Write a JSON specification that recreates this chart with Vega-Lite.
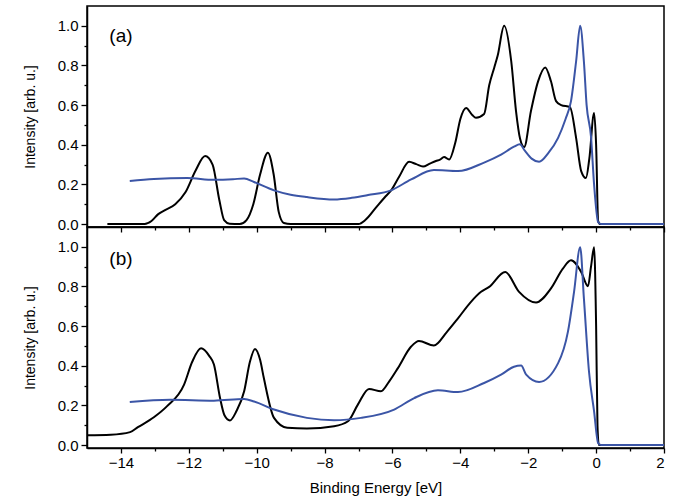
{
  "$schema": "https://vega.github.io/schema/vega-lite/v6.json",
  "padding": {"left": 22, "top": 5, "right": 5, "bottom": 5},
  "background": "white",
  "config": {
    "font": "Liberation Sans",
    "view": {"stroke": "black", "strokeWidth": 1.5},
    "axis": {
      "grid": false,
      "domainColor": "black",
      "domainWidth": 1.5,
      "tickColor": "black",
      "tickWidth": 1.3,
      "labelColor": "black",
      "titleColor": "black",
      "labelFont": "Liberation Sans",
      "titleFont": "Liberation Sans",
      "labelFontSize": 15,
      "titleFontSize": 14,
      "titleFontWeight": "normal"
    }
  },
  "datasets": {
    "curves": [
      {"panel": "a", "series": "black", "x": -14.4, "y": 0},
      {"panel": "a", "series": "black", "x": -13.3, "y": 0},
      {"panel": "a", "series": "black", "x": -13.1, "y": 0.015},
      {"panel": "a", "series": "black", "x": -12.9, "y": 0.05},
      {"panel": "a", "series": "black", "x": -12.7, "y": 0.07},
      {"panel": "a", "series": "black", "x": -12.4, "y": 0.1},
      {"panel": "a", "series": "black", "x": -12.1, "y": 0.16},
      {"panel": "a", "series": "black", "x": -11.8, "y": 0.27},
      {"panel": "a", "series": "black", "x": -11.52, "y": 0.343},
      {"panel": "a", "series": "black", "x": -11.3, "y": 0.3},
      {"panel": "a", "series": "black", "x": -11.1, "y": 0.12},
      {"panel": "a", "series": "black", "x": -10.96, "y": 0.02},
      {"panel": "a", "series": "black", "x": -10.8, "y": 0.002},
      {"panel": "a", "series": "black", "x": -10.5, "y": 0},
      {"panel": "a", "series": "black", "x": -10.3, "y": 0.02},
      {"panel": "a", "series": "black", "x": -10.1, "y": 0.1},
      {"panel": "a", "series": "black", "x": -9.9, "y": 0.25},
      {"panel": "a", "series": "black", "x": -9.67, "y": 0.36},
      {"panel": "a", "series": "black", "x": -9.5, "y": 0.25},
      {"panel": "a", "series": "black", "x": -9.35, "y": 0.06},
      {"panel": "a", "series": "black", "x": -9.2, "y": 0.005},
      {"panel": "a", "series": "black", "x": -9.0, "y": 0},
      {"panel": "a", "series": "black", "x": -7.0, "y": 0},
      {"panel": "a", "series": "black", "x": -6.8, "y": 0.02},
      {"panel": "a", "series": "black", "x": -6.5, "y": 0.08},
      {"panel": "a", "series": "black", "x": -6.2, "y": 0.14},
      {"panel": "a", "series": "black", "x": -6.04, "y": 0.17},
      {"panel": "a", "series": "black", "x": -5.8, "y": 0.24},
      {"panel": "a", "series": "black", "x": -5.51, "y": 0.314},
      {"panel": "a", "series": "black", "x": -5.3, "y": 0.302},
      {"panel": "a", "series": "black", "x": -5.1, "y": 0.29},
      {"panel": "a", "series": "black", "x": -4.9, "y": 0.305},
      {"panel": "a", "series": "black", "x": -4.72, "y": 0.318},
      {"panel": "a", "series": "black", "x": -4.6, "y": 0.325},
      {"panel": "a", "series": "black", "x": -4.48, "y": 0.338},
      {"panel": "a", "series": "black", "x": -4.33, "y": 0.325},
      {"panel": "a", "series": "black", "x": -4.15, "y": 0.41},
      {"panel": "a", "series": "black", "x": -4.0, "y": 0.53},
      {"panel": "a", "series": "black", "x": -3.83, "y": 0.586},
      {"panel": "a", "series": "black", "x": -3.65, "y": 0.55},
      {"panel": "a", "series": "black", "x": -3.54, "y": 0.536},
      {"panel": "a", "series": "black", "x": -3.3, "y": 0.555},
      {"panel": "a", "series": "black", "x": -3.15, "y": 0.7},
      {"panel": "a", "series": "black", "x": -3.0, "y": 0.79},
      {"panel": "a", "series": "black", "x": -2.9, "y": 0.85},
      {"panel": "a", "series": "black", "x": -2.71, "y": 1.0},
      {"panel": "a", "series": "black", "x": -2.5, "y": 0.82},
      {"panel": "a", "series": "black", "x": -2.36, "y": 0.57},
      {"panel": "a", "series": "black", "x": -2.24, "y": 0.43},
      {"panel": "a", "series": "black", "x": -2.12, "y": 0.388},
      {"panel": "a", "series": "black", "x": -1.92, "y": 0.57},
      {"panel": "a", "series": "black", "x": -1.71, "y": 0.72},
      {"panel": "a", "series": "black", "x": -1.5, "y": 0.79},
      {"panel": "a", "series": "black", "x": -1.33, "y": 0.72},
      {"panel": "a", "series": "black", "x": -1.18, "y": 0.62},
      {"panel": "a", "series": "black", "x": -1.03, "y": 0.6},
      {"panel": "a", "series": "black", "x": -0.77, "y": 0.59},
      {"panel": "a", "series": "black", "x": -0.59, "y": 0.435},
      {"panel": "a", "series": "black", "x": -0.44, "y": 0.267},
      {"panel": "a", "series": "black", "x": -0.3, "y": 0.232},
      {"panel": "a", "series": "black", "x": -0.2, "y": 0.33},
      {"panel": "a", "series": "black", "x": -0.06, "y": 0.56},
      {"panel": "a", "series": "black", "x": 0.0, "y": 0.4},
      {"panel": "a", "series": "black", "x": 0.06, "y": 0.015},
      {"panel": "a", "series": "black", "x": 0.12, "y": 0},
      {"panel": "a", "series": "black", "x": 2, "y": 0},
      {"panel": "a", "series": "blue", "x": -13.74, "y": 0.217},
      {"panel": "a", "series": "blue", "x": -13.03, "y": 0.227},
      {"panel": "a", "series": "blue", "x": -12.05, "y": 0.232},
      {"panel": "a", "series": "blue", "x": -11.26, "y": 0.223},
      {"panel": "a", "series": "blue", "x": -10.7, "y": 0.226},
      {"panel": "a", "series": "blue", "x": -10.37, "y": 0.23},
      {"panel": "a", "series": "blue", "x": -10.08, "y": 0.212},
      {"panel": "a", "series": "blue", "x": -9.49, "y": 0.17},
      {"panel": "a", "series": "blue", "x": -9.0, "y": 0.148},
      {"panel": "a", "series": "blue", "x": -8.52, "y": 0.136},
      {"panel": "a", "series": "blue", "x": -7.72, "y": 0.124},
      {"panel": "a", "series": "blue", "x": -7.2, "y": 0.132},
      {"panel": "a", "series": "blue", "x": -6.72, "y": 0.146},
      {"panel": "a", "series": "blue", "x": -6.04, "y": 0.17},
      {"panel": "a", "series": "blue", "x": -5.45, "y": 0.225},
      {"panel": "a", "series": "blue", "x": -4.78, "y": 0.272},
      {"panel": "a", "series": "blue", "x": -4.07, "y": 0.267},
      {"panel": "a", "series": "blue", "x": -3.3, "y": 0.31},
      {"panel": "a", "series": "blue", "x": -2.8, "y": 0.35},
      {"panel": "a", "series": "blue", "x": -2.42, "y": 0.39},
      {"panel": "a", "series": "blue", "x": -2.25, "y": 0.403},
      {"panel": "a", "series": "blue", "x": -2.1, "y": 0.37},
      {"panel": "a", "series": "blue", "x": -1.9, "y": 0.33},
      {"panel": "a", "series": "blue", "x": -1.68, "y": 0.314},
      {"panel": "a", "series": "blue", "x": -1.4, "y": 0.36},
      {"panel": "a", "series": "blue", "x": -1.12, "y": 0.435},
      {"panel": "a", "series": "blue", "x": -0.9, "y": 0.53},
      {"panel": "a", "series": "blue", "x": -0.74, "y": 0.62},
      {"panel": "a", "series": "blue", "x": -0.59, "y": 0.82},
      {"panel": "a", "series": "blue", "x": -0.47, "y": 1.0},
      {"panel": "a", "series": "blue", "x": -0.36, "y": 0.82},
      {"panel": "a", "series": "blue", "x": -0.28, "y": 0.6},
      {"panel": "a", "series": "blue", "x": -0.15, "y": 0.44},
      {"panel": "a", "series": "blue", "x": -0.06, "y": 0.2},
      {"panel": "a", "series": "blue", "x": 0.06, "y": 0.01},
      {"panel": "a", "series": "blue", "x": 0.15, "y": 0},
      {"panel": "a", "series": "blue", "x": 2, "y": 0},
      {"panel": "b", "series": "black", "x": -15, "y": 0.049},
      {"panel": "b", "series": "black", "x": -14.3, "y": 0.052},
      {"panel": "b", "series": "black", "x": -13.73, "y": 0.065},
      {"panel": "b", "series": "black", "x": -13.5, "y": 0.09},
      {"panel": "b", "series": "black", "x": -13.03, "y": 0.14},
      {"panel": "b", "series": "black", "x": -12.64, "y": 0.196},
      {"panel": "b", "series": "black", "x": -12.14, "y": 0.305},
      {"panel": "b", "series": "black", "x": -11.9, "y": 0.42},
      {"panel": "b", "series": "black", "x": -11.64, "y": 0.488},
      {"panel": "b", "series": "black", "x": -11.4, "y": 0.45},
      {"panel": "b", "series": "black", "x": -11.26, "y": 0.406},
      {"panel": "b", "series": "black", "x": -11.08, "y": 0.237},
      {"panel": "b", "series": "black", "x": -10.95, "y": 0.15},
      {"panel": "b", "series": "black", "x": -10.79, "y": 0.124},
      {"panel": "b", "series": "black", "x": -10.6, "y": 0.17},
      {"panel": "b", "series": "black", "x": -10.37, "y": 0.271},
      {"panel": "b", "series": "black", "x": -10.2, "y": 0.42},
      {"panel": "b", "series": "black", "x": -10.05, "y": 0.485},
      {"panel": "b", "series": "black", "x": -9.9, "y": 0.43},
      {"panel": "b", "series": "black", "x": -9.79, "y": 0.338},
      {"panel": "b", "series": "black", "x": -9.49, "y": 0.137},
      {"panel": "b", "series": "black", "x": -9.1, "y": 0.087},
      {"panel": "b", "series": "black", "x": -8.52, "y": 0.084},
      {"panel": "b", "series": "black", "x": -7.72, "y": 0.095},
      {"panel": "b", "series": "black", "x": -7.31, "y": 0.12},
      {"panel": "b", "series": "black", "x": -7.02, "y": 0.204},
      {"panel": "b", "series": "black", "x": -6.69, "y": 0.283},
      {"panel": "b", "series": "black", "x": -6.34, "y": 0.271},
      {"panel": "b", "series": "black", "x": -6.1, "y": 0.32},
      {"panel": "b", "series": "black", "x": -5.84, "y": 0.388},
      {"panel": "b", "series": "black", "x": -5.45, "y": 0.497},
      {"panel": "b", "series": "black", "x": -5.22, "y": 0.525},
      {"panel": "b", "series": "black", "x": -4.78, "y": 0.502},
      {"panel": "b", "series": "black", "x": -4.4, "y": 0.57},
      {"panel": "b", "series": "black", "x": -4.07, "y": 0.639},
      {"panel": "b", "series": "black", "x": -3.7, "y": 0.72},
      {"panel": "b", "series": "black", "x": -3.39, "y": 0.773},
      {"panel": "b", "series": "black", "x": -3.15, "y": 0.798},
      {"panel": "b", "series": "black", "x": -2.68, "y": 0.873},
      {"panel": "b", "series": "black", "x": -2.27, "y": 0.773},
      {"panel": "b", "series": "black", "x": -1.77, "y": 0.719},
      {"panel": "b", "series": "black", "x": -1.33, "y": 0.79},
      {"panel": "b", "series": "black", "x": -0.98, "y": 0.89},
      {"panel": "b", "series": "black", "x": -0.74, "y": 0.932},
      {"panel": "b", "series": "black", "x": -0.44, "y": 0.873},
      {"panel": "b", "series": "black", "x": -0.24, "y": 0.801},
      {"panel": "b", "series": "black", "x": -0.15, "y": 0.9},
      {"panel": "b", "series": "black", "x": -0.06, "y": 0.998},
      {"panel": "b", "series": "black", "x": 0.0, "y": 0.6},
      {"panel": "b", "series": "black", "x": 0.04, "y": 0.1},
      {"panel": "b", "series": "black", "x": 0.08, "y": 0},
      {"panel": "b", "series": "black", "x": 2, "y": 0},
      {"panel": "b", "series": "blue", "x": -13.74, "y": 0.217},
      {"panel": "b", "series": "blue", "x": -12.55, "y": 0.229},
      {"panel": "b", "series": "blue", "x": -11.26, "y": 0.224},
      {"panel": "b", "series": "blue", "x": -10.37, "y": 0.232},
      {"panel": "b", "series": "blue", "x": -10.08, "y": 0.22},
      {"panel": "b", "series": "blue", "x": -9.49, "y": 0.179},
      {"panel": "b", "series": "blue", "x": -8.52, "y": 0.137},
      {"panel": "b", "series": "blue", "x": -7.72, "y": 0.125},
      {"panel": "b", "series": "blue", "x": -6.93, "y": 0.137},
      {"panel": "b", "series": "blue", "x": -5.95, "y": 0.179},
      {"panel": "b", "series": "blue", "x": -5.36, "y": 0.237},
      {"panel": "b", "series": "blue", "x": -4.66, "y": 0.276},
      {"panel": "b", "series": "blue", "x": -4.07, "y": 0.267},
      {"panel": "b", "series": "blue", "x": -3.3, "y": 0.313},
      {"panel": "b", "series": "blue", "x": -2.8, "y": 0.355},
      {"panel": "b", "series": "blue", "x": -2.42, "y": 0.395},
      {"panel": "b", "series": "blue", "x": -2.21, "y": 0.401},
      {"panel": "b", "series": "blue", "x": -2.06, "y": 0.355},
      {"panel": "b", "series": "blue", "x": -1.68, "y": 0.318},
      {"panel": "b", "series": "blue", "x": -1.12, "y": 0.413},
      {"panel": "b", "series": "blue", "x": -0.83, "y": 0.572},
      {"panel": "b", "series": "blue", "x": -0.65, "y": 0.773},
      {"panel": "b", "series": "blue", "x": -0.47, "y": 0.998},
      {"panel": "b", "series": "blue", "x": -0.36, "y": 0.74},
      {"panel": "b", "series": "blue", "x": -0.21, "y": 0.371},
      {"panel": "b", "series": "blue", "x": -0.06, "y": 0.17},
      {"panel": "b", "series": "blue", "x": 0.06, "y": 0.01},
      {"panel": "b", "series": "blue", "x": 0.15, "y": 0},
      {"panel": "b", "series": "blue", "x": 2, "y": 0}
    ],
    "labels": [
      {"panel": "a", "x": -14, "y": 0.95, "label": "(a)"},
      {"panel": "b", "x": -14, "y": 0.94, "label": "(b)"}
    ]
  },
  "vconcat": [
    {
      "width": 577,
      "height": 221,
      "layer": [
        {
          "data": {"name": "curves"},
          "transform": [{"filter": "datum.panel === 'a'"}],
          "mark": {"type": "line", "interpolate": "monotone", "strokeWidth": 2},
          "encoding": {
            "x": {"field": "x", "type": "quantitative", "scale": {"domain": [-15, 2], "nice": false, "zero": false},
              "axis": {"values": [-14, -12, -10, -8, -6, -4, -2, 0, 2], "labels": false, "tickSize": 5, "title": null}},
            "y": {"field": "y", "type": "quantitative", "scale": {"domain": [-0.015, 1.1], "nice": false, "zero": false},
              "axis": {"values": [0, 0.2, 0.4, 0.6, 0.8, 1.0], "format": ".1f", "tickSize": 6, "labelPadding": 3, "title": "Intensity [arb. u.]", "titlePadding": 20}},
            "color": {"field": "series", "type": "nominal", "scale": {"domain": ["black", "blue"], "range": ["#000000", "#3b55a6"]}, "legend": null}
          }
        },
        {
          "data": {"name": "labels"},
          "transform": [{"filter": "datum.panel === 'a'"}],
          "mark": {"type": "text", "fontSize": 19, "font": "Liberation Sans", "color": "black", "align": "center", "baseline": "middle"},
          "encoding": {
            "x": {"field": "x", "type": "quantitative", "scale": {"domain": [-15, 2], "nice": false, "zero": false},
              "axis": {"values": [-13, -11, -9, -7, -5, -3, -1, 1], "labels": false, "tickSize": 3, "domain": false, "title": null, "orient": "bottom"}},
            "y": {"field": "y", "type": "quantitative", "scale": {"domain": [-0.015, 1.1], "nice": false, "zero": false},
              "axis": {"values": [0.1, 0.3, 0.5, 0.7, 0.9], "labels": false, "tickSize": 3, "domain": false, "title": null, "orient": "left"}},
            "text": {"field": "label"}
          }
        }
      ],
      "resolve": {"axis": {"x": "independent", "y": "independent"}}
    },
    {
      "width": 577,
      "height": 221,
      "layer": [
        {
          "data": {"name": "curves"},
          "transform": [{"filter": "datum.panel === 'b'"}],
          "mark": {"type": "line", "interpolate": "monotone", "strokeWidth": 2},
          "encoding": {
            "x": {"field": "x", "type": "quantitative", "scale": {"domain": [-15, 2], "nice": false, "zero": false},
              "axis": {"values": [-14, -12, -10, -8, -6, -4, -2, 0, 2], "tickSize": 5, "labelPadding": 2, "title": "Binding Energy [eV]", "titleFontSize": 15, "titlePadding": 10}},
            "y": {"field": "y", "type": "quantitative", "scale": {"domain": [-0.015, 1.1], "nice": false, "zero": false},
              "axis": {"values": [0, 0.2, 0.4, 0.6, 0.8, 1.0], "format": ".1f", "tickSize": 6, "labelPadding": 3, "title": "Intensity [arb. u.]", "titlePadding": 20}},
            "color": {"field": "series", "type": "nominal", "scale": {"domain": ["black", "blue"], "range": ["#000000", "#3b55a6"]}, "legend": null}
          }
        },
        {
          "data": {"name": "labels"},
          "transform": [{"filter": "datum.panel === 'b'"}],
          "mark": {"type": "text", "fontSize": 19, "font": "Liberation Sans", "color": "black", "align": "center", "baseline": "middle"},
          "encoding": {
            "x": {"field": "x", "type": "quantitative", "scale": {"domain": [-15, 2], "nice": false, "zero": false},
              "axis": {"values": [-13, -11, -9, -7, -5, -3, -1, 1], "labels": false, "tickSize": 3, "domain": false, "title": null, "orient": "bottom"}},
            "y": {"field": "y", "type": "quantitative", "scale": {"domain": [-0.015, 1.1], "nice": false, "zero": false},
              "axis": {"values": [0.1, 0.3, 0.5, 0.7, 0.9], "labels": false, "tickSize": 3, "domain": false, "title": null, "orient": "left"}},
            "text": {"field": "label"}
          }
        }
      ],
      "resolve": {"axis": {"x": "independent", "y": "independent"}}
    }
  ],
  "spacing": 0,
  "bounds": "flush"
}
